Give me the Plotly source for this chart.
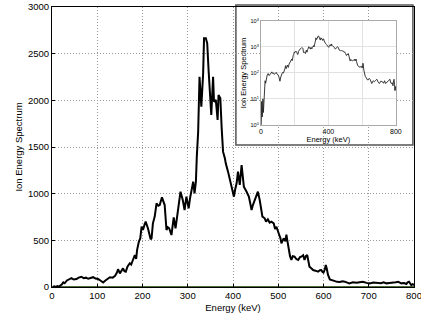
import plotly.graph_objects as go

energy = [2, 5, 8, 12, 15, 19, 22, 25, 28, 33, 38, 43, 48, 54, 59, 65, 70, 75, 80, 86, 91, 96, 102, 107, 113, 118, 123, 128, 134, 139, 143, 146, 150, 154, 157, 160, 163, 167, 172, 175, 178, 183, 186, 188, 192, 195, 198, 201, 204, 207, 212, 216, 218, 220, 223, 227, 231, 235, 238, 243, 246, 249, 253, 256, 259, 262, 264, 269, 273, 278, 281, 284, 289, 293, 297, 302, 305, 308, 312, 315, 318, 320, 323, 326, 330, 334, 336, 340, 343, 346, 350, 352, 356, 358, 362, 366, 368, 372, 375, 378, 382, 384, 389, 393, 396, 402, 405, 408, 411, 415, 419, 422, 424, 430, 435, 438, 441, 444, 450, 455, 459, 462, 465, 470, 473, 477, 481, 485, 490, 493, 496, 502, 505, 507, 512, 516, 518, 520, 523, 526, 529, 532, 536, 540, 544, 548, 551, 555, 558, 561, 564, 567, 569, 573, 577, 582, 588, 592, 595, 598, 600, 603, 605, 607, 610, 614, 618, 625, 630, 636, 642, 647, 652, 657, 665, 673, 680, 687, 695, 702, 710, 720, 727, 733, 739, 746, 754, 760, 765, 768, 772, 778, 783, 786, 789, 792, 794, 797, 800]
spectrum = [1, 8, 2, 10, 3, 14, 30, 50, 40, 70, 85, 95, 80, 85, 100, 110, 95, 100, 88, 100, 105, 90, 85, 70, 48, 70, 90, 104, 100, 118, 150, 190, 146, 175, 200, 170, 164, 220, 254, 240, 289, 343, 300, 396, 486, 520, 646, 611, 660, 700, 629, 540, 511, 521, 682, 754, 896, 870, 878, 961, 920, 878, 611, 640, 629, 590, 557, 746, 629, 807, 900, 1021, 932, 825, 968, 843, 950, 1039, 1128, 1004, 1128, 1396, 1664, 2253, 1932, 2289, 2664, 2664, 2611, 2325, 2039, 1843, 2253, 1985, 2004, 1789, 2057, 2021, 1700, 1450, 1379, 1325, 1236, 1150, 1075, 968, 1050, 1111, 1236, 1093, 1307, 1150, 1075, 1021, 968, 900, 825, 878, 968, 1021, 932, 820, 754, 736, 700, 725, 690, 700, 682, 620, 646, 560, 520, 468, 521, 490, 560, 500, 400, 330, 289, 330, 325, 300, 289, 320, 325, 340, 289, 330, 343, 270, 218, 200, 182, 175, 164, 180, 182, 160, 154, 190, 236, 200, 129, 82, 75, 64, 55, 54, 62, 57, 45, 39, 50, 46, 52, 57, 44, 39, 48, 46, 40, 50, 39, 44, 46, 52, 57, 45, 39, 42, 32, 50, 57, 35, 21, 30, 21]

baseline_energy = [0, 800]
baseline_values = [0, 0]

x_ticks = [0, 100, 200, 300, 400, 500, 600, 700, 800]
y_ticks = [0, 500, 1000, 1500, 2000, 2500, 3000]
inset_x_ticks = [0, 400, 800]
inset_y_ticks = [1, 10, 100, 1000, 10000]
inset_y_labels = ["10<sup>0</sup>", "10<sup>1</sup>", "10<sup>2</sup>", "10<sup>3</sup>", "10<sup>4</sup>"]

FONT = "Liberation Sans, Arial, sans-serif"

fig = go.Figure()
fig.add_trace(go.Scatter(x=baseline_energy, y=baseline_values, mode="lines",
                         line=dict(color="#4a6b3a", width=2), hoverinfo="skip"))
fig.add_trace(go.Scatter(x=energy, y=spectrum, mode="lines",
                         line=dict(color="black", width=2)))
fig.add_trace(go.Scatter(x=energy, y=spectrum, mode="lines", xaxis="x2", yaxis="y2",
                         line=dict(color="#222", width=0.9)))

fig.add_shape(type="rect", xref="paper", yref="paper", x0=0.508, x1=0.997, y0=0.507, y1=1.007,
              fillcolor="white", line=dict(color="#555", width=1.5), layer="between")

fig.update_layout(
    width=421, height=318,
    margin=dict(l=52, r=7, t=7, b=31),
    paper_bgcolor="white", plot_bgcolor="white",
    showlegend=False,
    font=dict(family=FONT, size=9, color="black"),
    xaxis=dict(range=[0, 800], tickvals=x_ticks, showgrid=True, gridcolor="#999",
               griddash="1px,2px", gridwidth=1, zeroline=False, showline=True, linecolor="black",
               linewidth=1, mirror=True, ticks="inside", ticklen=3, tickcolor="black",
               automargin=False, ticklabeloverflow="allow",
               title=dict(text="Energy (keV)", font=dict(size=9.5), standoff=3),
               tickfont=dict(size=9.5, color="black")),
    yaxis=dict(range=[0, 3000], tickvals=y_ticks, showgrid=True, gridcolor="#999",
               griddash="1px,2px", gridwidth=1, zeroline=False, showline=True, linecolor="black",
               linewidth=1, mirror=True, ticks="inside", ticklen=3, tickcolor="black",
               automargin=False, ticklabeloverflow="allow",
               title=dict(text="Ion Energy Spectrum", font=dict(size=9.5), standoff=3),
               tickfont=dict(size=9.5, color="black")),
    xaxis2=dict(domain=[0.577, 0.950], anchor="y2", range=[0, 800], tickvals=inset_x_ticks,
                showgrid=True, gridcolor="#e2e2e2", zeroline=False, showline=True,
                linecolor="#aaa", mirror=True, ticks="", tickfont=dict(size=7, color="black"),
                automargin=False, ticklabeloverflow="allow",
                minor=dict(dtick=200, showgrid=True, gridcolor="#e2e2e2"),
                title=dict(text="Energy (keV)", font=dict(size=7.5), standoff=1)),
    yaxis2=dict(domain=[0.579, 0.950], anchor="x2", type="log", range=[0, 4],
                tickvals=inset_y_ticks, ticktext=inset_y_labels, showgrid=True,
                gridcolor="#e2e2e2", zeroline=False, showline=True, linecolor="#aaa",
                mirror=True, ticks="", tickfont=dict(size=5.5, color="black"), automargin=False,
                ticklabeloverflow="allow",
                title=dict(text="Ion Energy Spectrum", font=dict(size=7.5), standoff=2)),
)

fig.write_html("out.html", config={"displayModeBar": False},
               post_script="document.body.style.margin='0';document.body.style.overflow='hidden';")
